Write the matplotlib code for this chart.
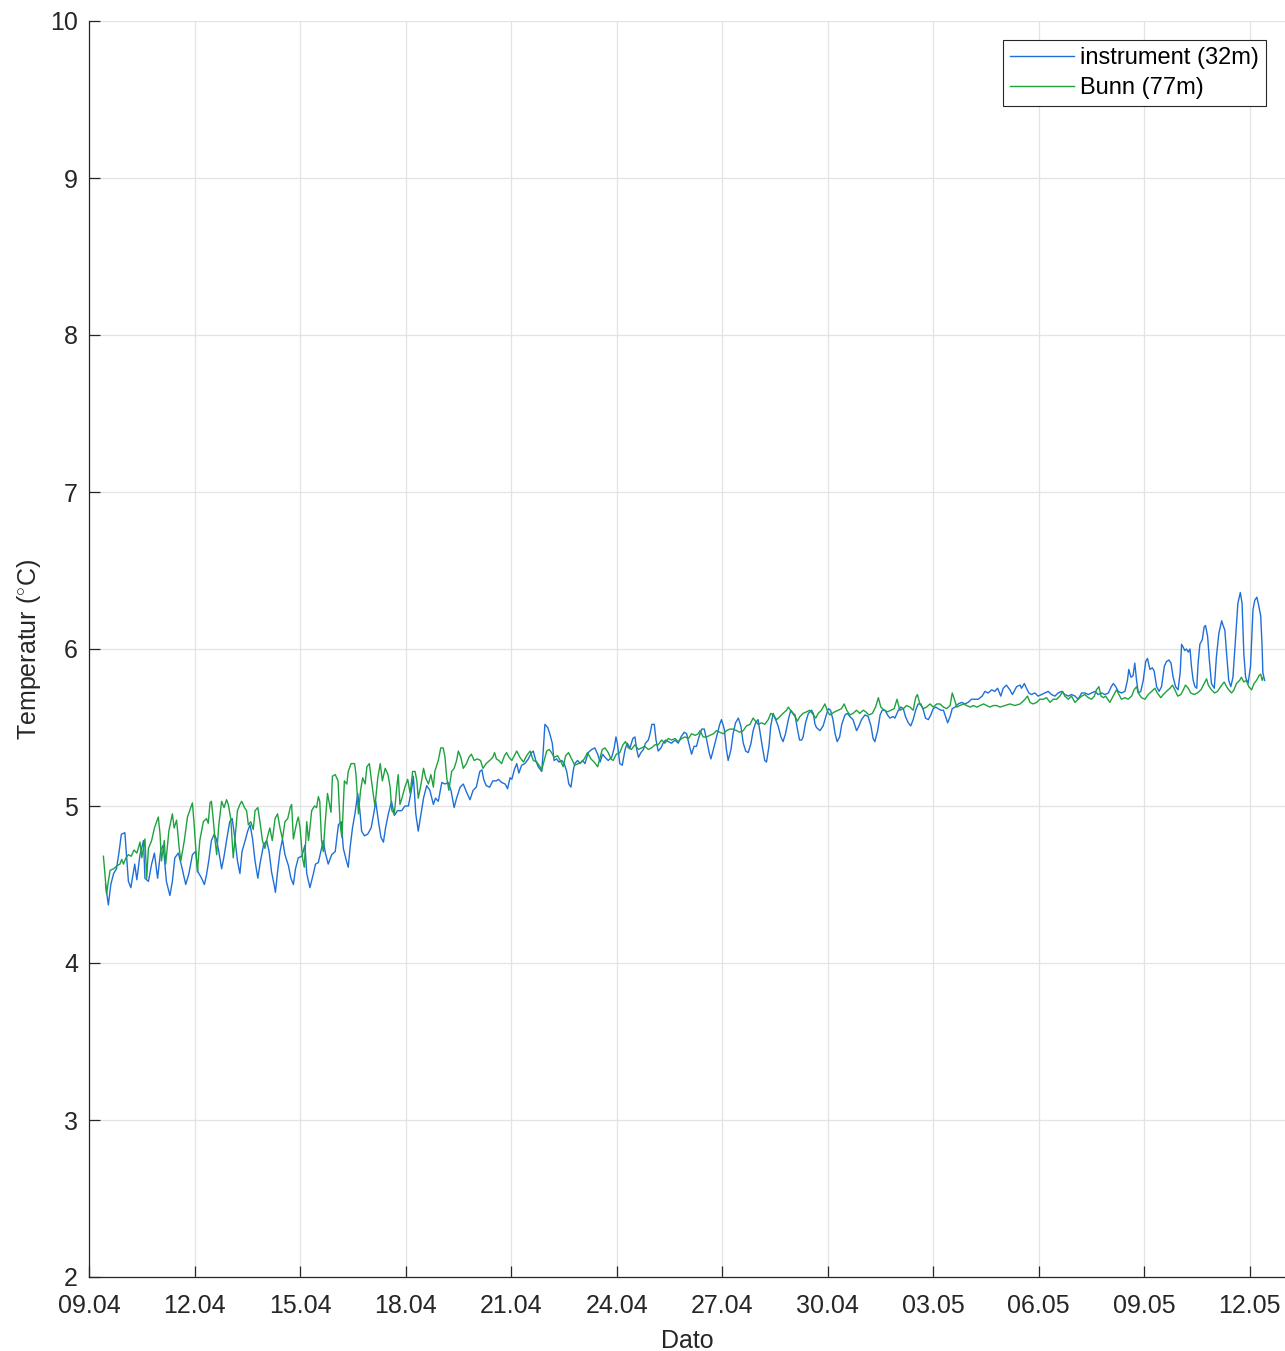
import numpy as np
import matplotlib
matplotlib.use("Agg")
import matplotlib.pyplot as plt
import matplotlib.dates as mdates
from datetime import datetime

plt.rcParams["font.family"] = ["Liberation Sans", "DejaVu Sans"]
plt.rcParams["mathtext.fontset"] = "custom"
plt.rcParams["mathtext.rm"] = "Liberation Sans"

# (days after 09.04 00:00, temperature in degC)
instrument = [
    (0.47, 4.50), (0.55, 4.37), (0.62, 4.50), (0.70, 4.57), (0.78, 4.60), (0.85, 4.70),
    (0.92, 4.82), (1.02, 4.83), (1.12, 4.52), (1.19, 4.48), (1.30, 4.63), (1.36, 4.53),
    (1.45, 4.69), (1.55, 4.78), (1.59, 4.54), (1.69, 4.52), (1.78, 4.63), (1.86, 4.70),
    (1.95, 4.54), (2.04, 4.72), (2.11, 4.75), (2.20, 4.52), (2.30, 4.43), (2.37, 4.52),
    (2.44, 4.67), (2.54, 4.70), (2.64, 4.61), (2.75, 4.50), (2.84, 4.57), (2.94, 4.69),
    (3.03, 4.71), (3.10, 4.58), (3.20, 4.54), (3.28, 4.50), (3.34, 4.56), (3.41, 4.66),
    (3.48, 4.78), (3.56, 4.82), (3.62, 4.79), (3.69, 4.71), (3.77, 4.60), (3.84, 4.68),
    (3.91, 4.78), (4.00, 4.90), (4.07, 4.92), (4.15, 4.79), (4.22, 4.65), (4.29, 4.57),
    (4.35, 4.71), (4.44, 4.78), (4.51, 4.84), (4.58, 4.88), (4.65, 4.79), (4.72, 4.65),
    (4.80, 4.54), (4.86, 4.63), (4.96, 4.75), (5.05, 4.78), (5.12, 4.71), (5.19, 4.58),
    (5.27, 4.49), (5.30, 4.45), (5.36, 4.58), (5.43, 4.71), (5.50, 4.79), (5.57, 4.69),
    (5.67, 4.62), (5.74, 4.54), (5.81, 4.50), (5.87, 4.60), (5.95, 4.67), (6.05, 4.68),
    (6.14, 4.75), (6.19, 4.57), (6.28, 4.48), (6.38, 4.57), (6.44, 4.63), (6.52, 4.64),
    (6.59, 4.71), (6.66, 4.78), (6.72, 4.70), (6.80, 4.63), (6.90, 4.69), (7.00, 4.71),
    (7.09, 4.88), (7.17, 4.90), (7.23, 4.73), (7.33, 4.64), (7.37, 4.61), (7.42, 4.73),
    (7.49, 4.86), (7.56, 4.95), (7.64, 5.08), (7.70, 4.97), (7.75, 4.84), (7.83, 4.81),
    (7.92, 4.82), (8.02, 4.86), (8.11, 4.97), (8.15, 5.03), (8.23, 4.90), (8.30, 4.80),
    (8.37, 4.77), (8.43, 4.86), (8.51, 4.95), (8.60, 5.03), (8.68, 4.94), (8.77, 4.97),
    (8.89, 4.97), (8.98, 5.00), (9.08, 5.00), (9.18, 5.12), (9.22, 5.19), (9.29, 4.95),
    (9.36, 4.84), (9.44, 4.95), (9.51, 5.05), (9.60, 5.13), (9.69, 5.10), (9.79, 5.01),
    (9.85, 5.05), (9.93, 5.03), (10.03, 5.15), (10.12, 5.14), (10.21, 5.15), (10.29, 5.10),
    (10.38, 4.99), (10.45, 5.05), (10.55, 5.12), (10.64, 5.14), (10.73, 5.09), (10.83, 5.04),
    (10.92, 5.10), (11.01, 5.12), (11.11, 5.22), (11.17, 5.23), (11.22, 5.17), (11.29, 5.13),
    (11.39, 5.12), (11.48, 5.16), (11.58, 5.16), (11.64, 5.17), (11.73, 5.15), (11.83, 5.14),
    (11.90, 5.11), (11.97, 5.18), (12.02, 5.17), (12.09, 5.23), (12.16, 5.27), (12.22, 5.21),
    (12.30, 5.26), (12.39, 5.27), (12.49, 5.30), (12.58, 5.34), (12.63, 5.35), (12.70, 5.29),
    (12.77, 5.25), (12.87, 5.22), (12.91, 5.34), (12.96, 5.52), (13.04, 5.50), (13.10, 5.46),
    (13.17, 5.40), (13.22, 5.29), (13.29, 5.30), (13.36, 5.28), (13.44, 5.29), (13.51, 5.27),
    (13.58, 5.22), (13.64, 5.14), (13.70, 5.12), (13.77, 5.23), (13.81, 5.27), (13.89, 5.29),
    (13.96, 5.27), (14.03, 5.29), (14.10, 5.27), (14.19, 5.34), (14.29, 5.36), (14.38, 5.37),
    (14.46, 5.33), (14.53, 5.28), (14.60, 5.33), (14.67, 5.31), (14.76, 5.29), (14.86, 5.31),
    (14.93, 5.37), (14.98, 5.44), (15.02, 5.40), (15.09, 5.27), (15.16, 5.26), (15.24, 5.36),
    (15.30, 5.40), (15.38, 5.37), (15.46, 5.43), (15.52, 5.44), (15.57, 5.36), (15.62, 5.31),
    (15.69, 5.34), (15.76, 5.36), (15.82, 5.40), (15.90, 5.42), (15.95, 5.46), (16.00, 5.52),
    (16.07, 5.52), (16.12, 5.42), (16.18, 5.35), (16.26, 5.37), (16.32, 5.40), (16.39, 5.42),
    (16.47, 5.41), (16.56, 5.40), (16.66, 5.42), (16.75, 5.40), (16.83, 5.44), (16.92, 5.47),
    (16.99, 5.46), (17.05, 5.40), (17.13, 5.33), (17.20, 5.38), (17.27, 5.38), (17.34, 5.44),
    (17.42, 5.49), (17.49, 5.49), (17.56, 5.42), (17.63, 5.34), (17.68, 5.30), (17.75, 5.36),
    (17.84, 5.44), (17.93, 5.52), (17.98, 5.55), (18.06, 5.49), (18.12, 5.36), (18.17, 5.29),
    (18.25, 5.36), (18.31, 5.46), (18.38, 5.53), (18.46, 5.56), (18.53, 5.51), (18.60, 5.40),
    (18.67, 5.35), (18.74, 5.34), (18.82, 5.40), (18.88, 5.48), (18.95, 5.53), (19.02, 5.55),
    (19.07, 5.48), (19.14, 5.38), (19.21, 5.29), (19.26, 5.28), (19.33, 5.38), (19.38, 5.51),
    (19.45, 5.59), (19.52, 5.55), (19.59, 5.51), (19.67, 5.44), (19.73, 5.41), (19.80, 5.46),
    (19.88, 5.55), (19.95, 5.61), (20.02, 5.59), (20.07, 5.58), (20.13, 5.50), (20.20, 5.42),
    (20.26, 5.42), (20.30, 5.44), (20.37, 5.53), (20.45, 5.59), (20.54, 5.61), (20.59, 5.59),
    (20.64, 5.52), (20.68, 5.50), (20.78, 5.48), (20.87, 5.51), (20.96, 5.58), (21.02, 5.62),
    (21.08, 5.61), (21.15, 5.55), (21.21, 5.46), (21.27, 5.41), (21.34, 5.44), (21.40, 5.52),
    (21.49, 5.58), (21.56, 5.59), (21.63, 5.57), (21.72, 5.55), (21.82, 5.48), (21.89, 5.51),
    (21.96, 5.55), (22.06, 5.58), (22.15, 5.57), (22.23, 5.51), (22.29, 5.43), (22.34, 5.41),
    (22.42, 5.48), (22.49, 5.58), (22.55, 5.61), (22.63, 5.61), (22.70, 5.58), (22.77, 5.56),
    (22.86, 5.57), (22.91, 5.56), (23.01, 5.61), (23.08, 5.63), (23.15, 5.62), (23.21, 5.57),
    (23.29, 5.53), (23.36, 5.51), (23.43, 5.55), (23.50, 5.61), (23.57, 5.65), (23.65, 5.65),
    (23.72, 5.61), (23.78, 5.56), (23.86, 5.55), (23.93, 5.58), (24.00, 5.62), (24.07, 5.63),
    (24.14, 5.62), (24.22, 5.61), (24.29, 5.61), (24.35, 5.57), (24.41, 5.53), (24.48, 5.57),
    (24.54, 5.62), (24.62, 5.63), (24.71, 5.65), (24.81, 5.66), (24.90, 5.65), (24.99, 5.66),
    (25.09, 5.68), (25.18, 5.68), (25.28, 5.68), (25.39, 5.70), (25.47, 5.73), (25.56, 5.72),
    (25.66, 5.74), (25.75, 5.73), (25.83, 5.75), (25.92, 5.70), (25.99, 5.75), (26.08, 5.77),
    (26.18, 5.74), (26.25, 5.71), (26.30, 5.73), (26.37, 5.76), (26.47, 5.77), (26.51, 5.75),
    (26.59, 5.78), (26.65, 5.75), (26.72, 5.72), (26.79, 5.71), (26.89, 5.72), (26.98, 5.70),
    (27.08, 5.71), (27.17, 5.72), (27.27, 5.73), (27.36, 5.71), (27.46, 5.70), (27.55, 5.72),
    (27.65, 5.73), (27.74, 5.71), (27.84, 5.70), (27.93, 5.71), (28.03, 5.70), (28.12, 5.68),
    (28.22, 5.72), (28.31, 5.72), (28.41, 5.71), (28.50, 5.72), (28.60, 5.73), (28.69, 5.71),
    (28.79, 5.72), (28.88, 5.71), (28.98, 5.72), (29.06, 5.76), (29.12, 5.78), (29.19, 5.76),
    (29.26, 5.73), (29.35, 5.72), (29.45, 5.73), (29.52, 5.80), (29.56, 5.87), (29.62, 5.82),
    (29.68, 5.83), (29.73, 5.91), (29.78, 5.80), (29.83, 5.72), (29.90, 5.73), (29.97, 5.80),
    (30.04, 5.92), (30.09, 5.94), (30.16, 5.87), (30.23, 5.88), (30.28, 5.86), (30.35, 5.76),
    (30.42, 5.73), (30.49, 5.76), (30.57, 5.89), (30.63, 5.92), (30.70, 5.93), (30.76, 5.91),
    (30.82, 5.82), (30.89, 5.76), (30.96, 5.74), (31.02, 5.85), (31.06, 6.03), (31.11, 6.01),
    (31.15, 5.99), (31.20, 6.00), (31.25, 5.98), (31.30, 6.00), (31.34, 5.89), (31.39, 5.80),
    (31.44, 5.76), (31.49, 5.75), (31.53, 5.91), (31.58, 6.03), (31.65, 6.06), (31.70, 6.14),
    (31.74, 6.15), (31.80, 6.08), (31.85, 5.93), (31.91, 5.78), (31.99, 5.75), (32.05, 5.95),
    (32.12, 6.10), (32.20, 6.18), (32.24, 6.15), (32.29, 6.12), (32.34, 5.97), (32.40, 5.80),
    (32.46, 5.76), (32.52, 5.82), (32.59, 6.06), (32.66, 6.29), (32.73, 6.36), (32.78, 6.29),
    (32.83, 5.97), (32.88, 5.82), (32.95, 5.78), (33.02, 5.89), (33.09, 6.25), (33.14, 6.31),
    (33.20, 6.33), (33.25, 6.28), (33.31, 6.21), (33.35, 6.01), (33.37, 5.85), (33.42, 5.80),
]

bunn = [
    (0.41, 4.68), (0.50, 4.44), (0.55, 4.52), (0.60, 4.59), (0.70, 4.60), (0.80, 4.62),
    (0.88, 4.63), (0.93, 4.66), (0.98, 4.63), (1.05, 4.67), (1.12, 4.69), (1.20, 4.68),
    (1.28, 4.72), (1.36, 4.70), (1.45, 4.77), (1.50, 4.67), (1.59, 4.79), (1.64, 4.54),
    (1.69, 4.73), (1.78, 4.78), (1.86, 4.86), (1.97, 4.93), (2.02, 4.82), (2.06, 4.65),
    (2.14, 4.78), (2.18, 4.63), (2.27, 4.84), (2.37, 4.95), (2.42, 4.86), (2.49, 4.91),
    (2.56, 4.74), (2.61, 4.65), (2.71, 4.78), (2.80, 4.93), (2.94, 5.02), (2.99, 4.88),
    (3.08, 4.58), (3.15, 4.78), (3.25, 4.90), (3.34, 4.92), (3.39, 4.89), (3.44, 5.02),
    (3.48, 5.03), (3.53, 4.92), (3.58, 4.79), (3.63, 4.69), (3.69, 4.88), (3.77, 5.03),
    (3.84, 4.99), (3.91, 5.04), (3.96, 5.01), (4.03, 4.92), (4.10, 4.67), (4.15, 4.79),
    (4.22, 4.97), (4.29, 5.01), (4.34, 5.03), (4.42, 4.99), (4.48, 4.97), (4.53, 4.88),
    (4.60, 4.90), (4.67, 4.85), (4.72, 4.97), (4.80, 4.99), (4.86, 4.90), (4.93, 4.78),
    (5.00, 4.73), (5.08, 4.81), (5.14, 4.86), (5.21, 4.78), (5.29, 4.92), (5.36, 4.95),
    (5.43, 4.86), (5.50, 4.79), (5.57, 4.90), (5.65, 4.92), (5.72, 4.99), (5.76, 5.01),
    (5.81, 4.79), (5.91, 4.90), (5.95, 4.93), (6.00, 4.86), (6.07, 4.67), (6.12, 4.61),
    (6.19, 4.90), (6.24, 4.78), (6.28, 4.86), (6.33, 4.97), (6.41, 5.00), (6.47, 4.99),
    (6.52, 5.06), (6.56, 5.03), (6.61, 4.78), (6.66, 4.71), (6.71, 4.88), (6.78, 5.08),
    (6.83, 5.02), (6.88, 4.96), (6.92, 5.19), (7.00, 5.20), (7.08, 5.16), (7.14, 4.88),
    (7.19, 4.80), (7.26, 5.16), (7.33, 5.14), (7.37, 5.22), (7.45, 5.27), (7.55, 5.27),
    (7.59, 5.20), (7.66, 4.95), (7.72, 5.10), (7.78, 5.18), (7.85, 5.14), (7.90, 5.25),
    (7.97, 5.27), (8.02, 5.18), (8.09, 5.06), (8.13, 5.00), (8.21, 5.18), (8.28, 5.27),
    (8.34, 5.16), (8.42, 5.24), (8.50, 5.20), (8.56, 5.12), (8.61, 4.97), (8.68, 4.95),
    (8.75, 5.12), (8.79, 5.20), (8.84, 5.01), (8.91, 5.06), (8.98, 5.12), (9.06, 5.17),
    (9.13, 5.08), (9.20, 5.22), (9.27, 5.22), (9.32, 5.16), (9.36, 5.05), (9.44, 5.14),
    (9.51, 5.24), (9.57, 5.18), (9.65, 5.14), (9.72, 5.20), (9.79, 5.12), (9.83, 5.22),
    (9.93, 5.29), (10.00, 5.37), (10.07, 5.37), (10.12, 5.31), (10.17, 5.18), (10.23, 5.10),
    (10.31, 5.22), (10.38, 5.24), (10.45, 5.29), (10.50, 5.35), (10.57, 5.31), (10.64, 5.24),
    (10.73, 5.27), (10.80, 5.31), (10.87, 5.33), (10.95, 5.29), (11.04, 5.30), (11.13, 5.29),
    (11.20, 5.24), (11.29, 5.27), (11.39, 5.29), (11.48, 5.31), (11.53, 5.34), (11.58, 5.30),
    (11.65, 5.29), (11.73, 5.27), (11.81, 5.32), (11.87, 5.34), (11.94, 5.31), (12.02, 5.29),
    (12.09, 5.32), (12.16, 5.35), (12.25, 5.31), (12.35, 5.28), (12.44, 5.32), (12.54, 5.35),
    (12.63, 5.29), (12.73, 5.28), (12.82, 5.25), (12.87, 5.23), (12.94, 5.29), (13.01, 5.35),
    (13.08, 5.36), (13.15, 5.34), (13.22, 5.31), (13.32, 5.32), (13.42, 5.28), (13.48, 5.25),
    (13.55, 5.32), (13.63, 5.34), (13.72, 5.30), (13.81, 5.26), (13.91, 5.27), (14.00, 5.28),
    (14.08, 5.30), (14.17, 5.34), (14.27, 5.30), (14.36, 5.28), (14.46, 5.25), (14.53, 5.31),
    (14.59, 5.36), (14.67, 5.37), (14.76, 5.34), (14.84, 5.30), (14.90, 5.29), (14.99, 5.33),
    (15.09, 5.34), (15.18, 5.39), (15.25, 5.41), (15.33, 5.37), (15.42, 5.36), (15.52, 5.39),
    (15.62, 5.36), (15.71, 5.37), (15.80, 5.38), (15.90, 5.36), (15.99, 5.37), (16.09, 5.39),
    (16.18, 5.39), (16.28, 5.42), (16.37, 5.40), (16.47, 5.43), (16.56, 5.42), (16.66, 5.43),
    (16.75, 5.41), (16.85, 5.43), (16.94, 5.44), (17.04, 5.43), (17.13, 5.46), (17.23, 5.45),
    (17.32, 5.46), (17.37, 5.48), (17.46, 5.44), (17.56, 5.44), (17.65, 5.45), (17.75, 5.46),
    (17.84, 5.48), (17.93, 5.47), (18.03, 5.46), (18.12, 5.48), (18.22, 5.49), (18.31, 5.49),
    (18.41, 5.48), (18.50, 5.47), (18.60, 5.48), (18.69, 5.51), (18.79, 5.52), (18.88, 5.56),
    (18.95, 5.54), (19.02, 5.52), (19.12, 5.53), (19.21, 5.52), (19.31, 5.55), (19.38, 5.59),
    (19.45, 5.58), (19.55, 5.55), (19.64, 5.57), (19.73, 5.59), (19.83, 5.61), (19.88, 5.63),
    (19.97, 5.60), (20.07, 5.57), (20.14, 5.54), (20.21, 5.57), (20.30, 5.59), (20.40, 5.60),
    (20.49, 5.61), (20.59, 5.58), (20.66, 5.56), (20.73, 5.59), (20.82, 5.61), (20.92, 5.65),
    (21.00, 5.60), (21.06, 5.58), (21.13, 5.59), (21.20, 5.60), (21.30, 5.61), (21.39, 5.62),
    (21.47, 5.65), (21.54, 5.61), (21.63, 5.58), (21.72, 5.59), (21.82, 5.61), (21.91, 5.59),
    (22.01, 5.61), (22.08, 5.60), (22.17, 5.58), (22.27, 5.59), (22.36, 5.63), (22.44, 5.69),
    (22.51, 5.63), (22.61, 5.61), (22.70, 5.60), (22.80, 5.61), (22.89, 5.62), (22.97, 5.68),
    (23.05, 5.61), (23.15, 5.62), (23.24, 5.64), (23.34, 5.63), (23.43, 5.61), (23.50, 5.69),
    (23.55, 5.71), (23.62, 5.65), (23.72, 5.62), (23.81, 5.63), (23.91, 5.65), (24.00, 5.63),
    (24.10, 5.65), (24.19, 5.65), (24.29, 5.63), (24.38, 5.62), (24.48, 5.64), (24.54, 5.72),
    (24.60, 5.68), (24.67, 5.63), (24.76, 5.64), (24.86, 5.65), (24.95, 5.64), (25.05, 5.63),
    (25.14, 5.64), (25.24, 5.63), (25.33, 5.64), (25.43, 5.65), (25.52, 5.64), (25.61, 5.63),
    (25.71, 5.64), (25.80, 5.64), (25.90, 5.63), (26.04, 5.64), (26.18, 5.65), (26.32, 5.64),
    (26.47, 5.65), (26.61, 5.68), (26.68, 5.70), (26.75, 5.66), (26.84, 5.65), (26.94, 5.66),
    (27.03, 5.68), (27.13, 5.68), (27.22, 5.69), (27.32, 5.66), (27.41, 5.68), (27.51, 5.68),
    (27.60, 5.70), (27.68, 5.73), (27.74, 5.70), (27.84, 5.68), (27.93, 5.70), (28.03, 5.66),
    (28.12, 5.68), (28.22, 5.70), (28.31, 5.71), (28.41, 5.69), (28.50, 5.68), (28.58, 5.70),
    (28.64, 5.74), (28.71, 5.76), (28.77, 5.70), (28.84, 5.69), (28.90, 5.70), (28.96, 5.68),
    (29.02, 5.66), (29.09, 5.69), (29.14, 5.71), (29.21, 5.74), (29.28, 5.71), (29.35, 5.68),
    (29.45, 5.69), (29.54, 5.68), (29.64, 5.70), (29.71, 5.74), (29.78, 5.76), (29.83, 5.72),
    (29.92, 5.69), (30.02, 5.68), (30.11, 5.71), (30.21, 5.73), (30.30, 5.75), (30.37, 5.72),
    (30.47, 5.69), (30.54, 5.71), (30.63, 5.73), (30.73, 5.75), (30.80, 5.77), (30.87, 5.74),
    (30.95, 5.70), (31.04, 5.71), (31.11, 5.74), (31.17, 5.77), (31.25, 5.75), (31.32, 5.72),
    (31.42, 5.71), (31.51, 5.72), (31.61, 5.74), (31.70, 5.78), (31.77, 5.81), (31.82, 5.77),
    (31.91, 5.74), (32.00, 5.72), (32.08, 5.73), (32.17, 5.76), (32.27, 5.79), (32.34, 5.76),
    (32.40, 5.74), (32.48, 5.72), (32.55, 5.74), (32.62, 5.78), (32.71, 5.80), (32.76, 5.82),
    (32.83, 5.79), (32.90, 5.80), (32.97, 5.76), (33.05, 5.74), (33.12, 5.78), (33.19, 5.80),
    (33.26, 5.83), (33.31, 5.84), (33.35, 5.80), (33.38, 5.82),
]

labels = ["instrument (32m)", "Bunn (77m)"]
colors = ["#1f6fd8", "#1ea23f"]
tick_days = [0, 3, 6, 9, 12, 15, 18, 21, 24, 27, 30, 33]
yticks = [2, 3, 4, 5, 6, 7, 8, 9, 10]

start = mdates.date2num(datetime(2021, 4, 9))

fig = plt.figure(figsize=(12.85, 13.51), dpi=100)
ax = fig.add_axes([89 / 1285, 74 / 1351, 1196 / 1285, 1256 / 1351])

for series, lab, col in zip([instrument, bunn], labels, colors):
    d = np.array(series)
    ax.plot(start + d[:, 0], d[:, 1], color=col, lw=1.0, label=lab)

ax.set_xlim(start, start + 34)
ax.set_ylim(2, 10)
ax.set_xticks([start + t for t in tick_days])
ax.xaxis.set_major_formatter(mdates.DateFormatter("%d.%m"))
ax.set_yticks(yticks)

ax.grid(True, color="#e3e3e3", lw=0.9)
ax.set_axisbelow(True)
for s in ["top", "right"]:
    ax.spines[s].set_visible(False)
for s in ["left", "bottom"]:
    ax.spines[s].set_color("#262626")
    ax.spines[s].set_linewidth(0.9)
ax.tick_params(direction="in", length=8, width=0.9, colors="#262626", labelsize=18)
ax.tick_params(axis="x", pad=12)
ax.tick_params(axis="y", pad=8)

ax.set_xlabel("Dato", fontsize=18, color="#262626", labelpad=8)
ax.set_ylabel(r"Temperatur ($^{\circ}$C)", fontsize=18, color="#262626", labelpad=5)

leg = ax.legend(loc="upper right", bbox_to_anchor=(1177 / 1196, 1237 / 1256),
                borderaxespad=0, fontsize=17, handlelength=2.7, handletextpad=0.25,
                labelspacing=0.33, borderpad=0.3, fancybox=False, framealpha=1)
leg.get_frame().set_edgecolor("#262626")
leg.get_frame().set_linewidth(0.8)

fig.savefig("out.png", dpi=100)
